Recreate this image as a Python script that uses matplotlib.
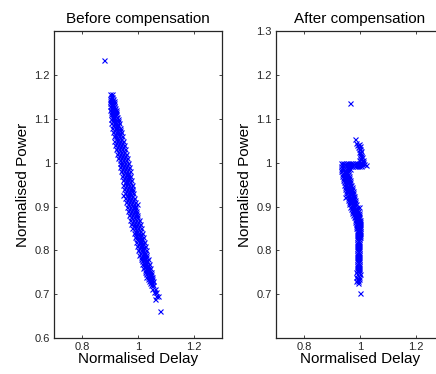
import matplotlib
matplotlib.use('Agg')
import matplotlib.pyplot as plt

plt.rcParams['font.family'] = ['Liberation Sans', 'DejaVu Sans']

# Before compensation: each row is one power level with the delays seen there
before_power = [1.157, 1.150, 1.145, 1.140, 1.135, 1.130, 1.125, 1.120, 1.115, 1.110,
                1.105, 1.100, 1.095, 1.090, 1.085, 1.080, 1.075, 1.070, 1.065, 1.060,
                1.055, 1.050, 1.045, 1.040, 1.035, 1.030, 1.025, 1.020, 1.015, 1.010,
                1.005, 1.000, 0.995, 0.990, 0.985, 0.980, 0.975, 0.970, 0.965, 0.960,
                0.955, 0.950, 0.945, 0.940, 0.935, 0.930, 0.925, 0.920, 0.915, 0.910,
                0.905, 0.900, 0.895, 0.890, 0.885, 0.880, 0.875, 0.870, 0.865, 0.860,
                0.855, 0.850, 0.845, 0.840, 0.835, 0.830, 0.825, 0.820, 0.815, 0.810,
                0.805, 0.800, 0.795, 0.790, 0.785, 0.780, 0.775, 0.770, 0.765, 0.760,
                0.755, 0.750, 0.745, 0.740, 0.735, 0.730, 0.725, 0.720, 0.712, 0.705,
                0.695, 0.690, 1.235, 0.662, 0.905, 0.926]
before_delay = [
    [0.899, 0.906], [0.902, 0.908], [0.899, 0.905, 0.910], [0.901, 0.907, 0.913],
    [0.900, 0.907, 0.914], [0.901, 0.908, 0.915], [0.902, 0.910, 0.917], [0.900, 0.907, 0.914, 0.920],
    [0.904, 0.913, 0.921], [0.902, 0.909, 0.916, 0.923], [0.906, 0.915, 0.924], [0.903, 0.911, 0.919, 0.927],
    [0.909, 0.918, 0.927], [0.905, 0.914, 0.923, 0.931], [0.912, 0.921, 0.930], [0.907, 0.917, 0.926, 0.935],
    [0.914, 0.924, 0.934], [0.910, 0.920, 0.929, 0.939], [0.917, 0.927, 0.937], [0.913, 0.923, 0.933, 0.943],
    [0.920, 0.930, 0.940], [0.916, 0.926, 0.936, 0.946], [0.923, 0.933, 0.943], [0.919, 0.929, 0.939, 0.949],
    [0.926, 0.936, 0.946], [0.922, 0.932, 0.942, 0.952], [0.929, 0.939, 0.949], [0.926, 0.936, 0.946, 0.956],
    [0.933, 0.943, 0.953], [0.930, 0.940, 0.950, 0.960], [0.937, 0.947, 0.957], [0.934, 0.944, 0.954, 0.964],
    [0.940, 0.950, 0.960], [0.937, 0.947, 0.957, 0.967], [0.943, 0.953, 0.963], [0.940, 0.950, 0.960, 0.970],
    [0.946, 0.956, 0.966], [0.943, 0.953, 0.963, 0.973], [0.949, 0.959, 0.969], [0.946, 0.956, 0.966, 0.976],
    [0.952, 0.962, 0.972], [0.948, 0.958, 0.968, 0.978], [0.954, 0.964, 0.974], [0.950, 0.960, 0.970, 0.980],
    [0.957, 0.967, 0.977], [0.953, 0.963, 0.973, 0.983], [0.959, 0.969, 0.979], [0.955, 0.965, 0.975, 0.985],
    [0.962, 0.972, 0.982], [0.958, 0.968, 0.978, 0.988], [0.965, 0.975, 0.985], [0.961, 0.971, 0.981, 0.991],
    [0.968, 0.978, 0.988], [0.964, 0.974, 0.984, 0.994], [0.972, 0.982, 0.992], [0.968, 0.978, 0.988, 0.998],
    [0.976, 0.986, 0.996], [0.972, 0.982, 0.992, 1.002], [0.980, 0.990, 1.000], [0.976, 0.986, 0.996, 1.006],
    [0.984, 0.994, 1.004], [0.980, 0.990, 1.000, 1.010], [0.988, 0.998, 1.008], [0.984, 0.994, 1.004, 1.014],
    [0.992, 1.002, 1.012], [0.988, 0.998, 1.008, 1.018], [0.996, 1.006, 1.016], [0.992, 1.002, 1.012, 1.022],
    [1.000, 1.010, 1.019], [0.996, 1.006, 1.015, 1.024], [1.004, 1.013, 1.022], [1.000, 1.009, 1.018, 1.027],
    [1.008, 1.017, 1.026], [1.004, 1.013, 1.022, 1.030], [1.012, 1.021, 1.030], [1.009, 1.018, 1.026, 1.034],
    [1.016, 1.025, 1.033], [1.014, 1.022, 1.030, 1.038], [1.020, 1.029, 1.037], [1.019, 1.027, 1.035, 1.042],
    [1.025, 1.033, 1.041], [1.024, 1.032, 1.040, 1.046], [1.030, 1.038, 1.045], [1.030, 1.037, 1.044, 1.050],
    [1.035, 1.043, 1.049], [1.038, 1.046, 1.052], [1.042, 1.050], [1.045, 1.054],
    [1.050, 1.060], [1.056, 1.064], [1.065, 1.072], [1.062],
    [0.880], [1.080], [0.995], [0.945]]

# After compensation
after_power = [1.000, 0.996, 0.993, 0.985, 0.980, 0.975, 0.970, 0.965, 0.960, 0.955, 0.950,
               0.945, 0.940, 0.935, 0.930, 0.925, 0.920, 0.915, 0.910, 0.905, 0.900,
               0.895, 0.890, 0.885, 0.880, 0.875, 0.870, 0.865, 0.860, 0.855, 0.850,
               0.845, 0.840, 0.835, 0.830, 0.825, 0.820, 0.815, 0.810, 0.805, 0.800,
               0.795, 0.790, 0.785, 0.780, 0.775, 0.770, 0.765, 0.760, 0.755, 0.750,
               0.745, 0.740, 0.735, 0.730, 0.725, 0.703,
               1.053, 1.045, 1.040, 1.043, 1.038, 1.035, 1.030, 1.032, 1.025, 1.022,
               1.027, 1.018, 1.015, 1.012, 1.010, 1.008, 1.006, 1.006, 1.002, 0.994,
               0.998, 0.997, 1.135, 0.922, 0.899]
after_delay = [
    [0.933, 0.941, 0.949, 0.957, 0.965, 0.973, 0.981, 0.989, 0.997, 1.004],
    [0.937, 0.945, 0.953, 0.961, 0.969, 0.977, 0.985, 0.993, 1.001],
    [0.933, 0.941, 0.949, 0.957, 0.965, 0.973, 0.981, 0.989, 0.997, 1.005],
    [0.933, 0.941, 0.949, 0.957, 0.963], [0.934, 0.942, 0.950, 0.958], [0.935, 0.943, 0.951, 0.959],
    [0.937, 0.945, 0.953, 0.961], [0.938, 0.946, 0.954, 0.962], [0.940, 0.948, 0.956, 0.964],
    [0.942, 0.950, 0.958, 0.966], [0.944, 0.952, 0.960, 0.968], [0.946, 0.954, 0.962, 0.970],
    [0.948, 0.956, 0.964, 0.972], [0.950, 0.958, 0.966, 0.974], [0.952, 0.960, 0.968, 0.976],
    [0.954, 0.962, 0.970, 0.978], [0.956, 0.964, 0.972, 0.980], [0.958, 0.966, 0.974, 0.982],
    [0.960, 0.968, 0.976, 0.984], [0.962, 0.970, 0.978, 0.986], [0.964, 0.972, 0.980, 0.988],
    [0.967, 0.975, 0.983, 0.990], [0.970, 0.978, 0.986, 0.993], [0.973, 0.981, 0.988, 0.995],
    [0.976, 0.983, 0.990, 0.997], [0.979, 0.986, 0.992, 0.998], [0.982, 0.988, 0.994, 0.999],
    [0.984, 0.990, 0.995, 1.000], [0.985, 0.991, 0.996, 1.001], [0.987, 0.994, 1.000],
    [0.987, 0.994, 1.000], [0.988, 0.995, 1.001], [0.988, 0.995, 1.001],
    [0.989, 0.996, 1.001], [0.989, 0.996, 1.001], [0.990, 0.997], [0.990, 0.998],
    [0.990, 0.998], [0.990, 0.998], [0.990, 0.998], [0.990, 0.998],
    [0.990, 0.998], [0.990, 0.997], [0.989, 0.997], [0.989, 0.997],
    [0.989, 0.997], [0.988, 0.996], [0.988, 0.996], [0.988, 0.996],
    [0.988, 0.996], [0.987, 0.995], [0.988, 0.999], [0.987, 0.995],
    [0.988, 0.995], [0.986, 0.994], [0.993], [0.999],
    [0.982], [0.986], [0.990], [0.996], [0.999], [0.993], [0.998], [1.002], [0.996], [1.001],
    [1.004], [0.999], [1.003], [1.007], [1.000], [1.005], [1.010], [0.998], [1.012], [1.022],
    [1.008], [1.015], [0.963], [0.947], [0.997]]

x_ticks = [0.8, 1.0, 1.2]
x_tick_labels = ['0.8', '1', '1.2']
left_y_ticks = [0.6, 0.7, 0.8, 0.9, 1.0, 1.1, 1.2]
left_y_labels = ['0.6', '0.7', '0.8', '0.9', '1', '1.1', '1.2']
right_y_ticks = [0.7, 0.8, 0.9, 1.0, 1.1, 1.2, 1.3]
right_y_labels = ['0.7', '0.8', '0.9', '1', '1.1', '1.2', '1.3']


def flatten(power, delay):
    xs, ys = [], []
    for p, row in zip(power, delay):
        for d in row:
            xs.append(d)
            ys.append(p)
    return xs, ys


def panel(ax, power, delay, title, yticks, ylabels):
    xs, ys = flatten(power, delay)
    ax.plot(xs, ys, 'x', color='#0000ff', markersize=3.6, markeredgewidth=0.8)
    ax.set_xlim(0.7, 1.3)
    ax.set_ylim(0.6, 1.3)
    ax.set_xticks(x_ticks)
    ax.set_xticklabels(x_tick_labels)
    ax.set_yticks(yticks)
    ax.set_yticklabels(ylabels)
    ax.tick_params(direction='in', length=2.5, width=0.6, labelsize=8, pad=3,
                   top=True, right=True, colors='#262626')
    for s in ax.spines.values():
        s.set_linewidth(0.9)
        s.set_color('#262626')
    ax.set_title(title, fontsize=11, pad=6)
    ax.set_xlabel('Normalised Delay', fontsize=11, labelpad=0)
    ax.set_ylabel('Normalised Power', fontsize=11, labelpad=3)


fig = plt.figure(figsize=(4.36, 3.74), dpi=100)
ax1 = fig.add_axes([0.124, 0.096, 0.385, 0.821])
ax2 = fig.add_axes([0.633, 0.096, 0.385, 0.821])
panel(ax1, before_power, before_delay, 'Before compensation', left_y_ticks, left_y_labels)
panel(ax2, after_power, after_delay, 'After compensation', right_y_ticks, right_y_labels)

fig.savefig('out.png', dpi=100)
